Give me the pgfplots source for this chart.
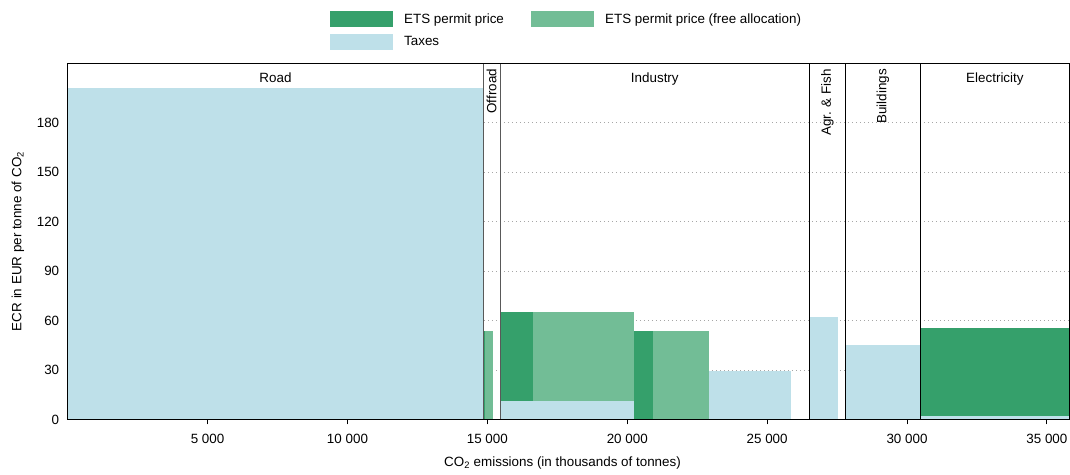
\documentclass[border=0pt]{standalone}
\usepackage{fontspec}
\setmainfont{Liberation Sans}
\usepackage{pgfplots}
\pgfplotsset{compat=1.18}
\definecolor{etsd}{RGB}{53,160,107}
\definecolor{etsl}{RGB}{114,189,150}
\definecolor{tax}{RGB}{190,224,233}
\newcommand\myfont{\fontsize{13.4bp}{16bp}\selectfont}
\begin{document}
\begin{tikzpicture}[font=\myfont]
\begin{axis}[
  scale only axis, width=1001.3bp, height=356bp,
  xmin=0, xmax=35800, ymin=0, ymax=216,
  scaled x ticks=false,
  xtick={5000,10000,...,35000},
  xticklabels={5 000,10 000,15 000,20 000,25 000,30 000,35 000},
  ytick={0,30,...,180},
  /pgf/number format/assume math mode=true,
  tick label style={font=\myfont},
  xticklabel style={yshift=-6bp},
  xtick pos=left,
  tick align=outside, major tick length=5bp,
  ytick style={draw=none},
  xtick style={black, line width=1bp},
  ymajorgrids,
  major grid style={black!35, line width=0.8bp, dash pattern=on 1bp off 3bp},
  axis line style={line width=1bp},
  xlabel={CO\textsubscript{2} emissions (in thousands of tonnes)},
  ylabel={ECR in EUR per tonne of CO\textsubscript{2}},
  xlabel style={at={(axis description cs:0.494,-0.1228)}, anchor=center, font=\myfont},
  ylabel style={at={(axis description cs:-0.0497,0.5)}, anchor=center, font=\myfont},
  legend columns=2,
  legend style={at={(axis description cs:0.498,1)}, anchor=south, yshift=13bp,
    draw=none, fill=none, font=\myfont, inner sep=0pt, row sep=7bp,
    /tikz/every even column/.append style={column sep=25bp}},
  legend image code/.code={\fill[#1, draw=none] (0bp,-8bp) rectangle (63bp,8bp); \path (72bp,0bp);},
  legend cell align=left,
  bar/.style={draw=none, forget plot},
]
\addlegendimage{fill=etsd}
\addlegendentry{ETS permit price}
\addlegendimage{fill=etsl}
\addlegendentry{ETS permit price (free allocation)}
\addlegendimage{fill=tax}
\addlegendentry{Taxes}

% Road
\addplot[fill=tax, bar] coordinates {(0,0) (14852,0) (14852,201.3) (0,201.3)} -- cycle;
% Offroad
\addplot[fill=etsd, bar] coordinates {(14852,0) (14900,0) (14900,53.4) (14852,53.4)} -- cycle;
\addplot[fill=etsl, bar] coordinates {(14900,0) (15195,0) (15195,53.4) (14900,53.4)} -- cycle;
% Industry
\addplot[fill=tax, bar] coordinates {(15456,0) (20257,0) (20257,11.1) (15456,11.1)} -- cycle;
\addplot[fill=etsd, bar] coordinates {(15456,11.1) (16646,11.1) (16646,64.9) (15456,64.9)} -- cycle;
\addplot[fill=etsl, bar] coordinates {(16646,11.1) (20257,11.1) (20257,64.9) (16646,64.9)} -- cycle;
\addplot[fill=etsd, bar] coordinates {(20257,0) (20926,0) (20926,53.4) (20257,53.4)} -- cycle;
\addplot[fill=etsl, bar] coordinates {(20926,0) (22928,0) (22928,53.4) (20926,53.4)} -- cycle;
\addplot[fill=tax, bar] coordinates {(22928,0) (25870,0) (25870,29.1) (22928,29.1)} -- cycle;
% Agr. & Fish
\addplot[fill=tax, bar] coordinates {(26514,0) (27541,0) (27541,61.9) (26514,61.9)} -- cycle;
% Buildings
\addplot[fill=tax, bar] coordinates {(27801,0) (30483,0) (30483,44.9) (27801,44.9)} -- cycle;
% Electricity
\addplot[fill=tax, bar] coordinates {(30483,0) (35800,0) (35800,1.8) (30483,1.8)} -- cycle;
\addplot[fill=etsd, bar] coordinates {(30483,1.8) (35800,1.8) (35800,55.2) (30483,55.2)} -- cycle;

% sector separators
\addplot[black!65, line width=1bp, forget plot] coordinates {(14852,0) (14852,216)};
\addplot[black!65, line width=1bp, forget plot] coordinates {(15456,0) (15456,216)};
\addplot[black, line width=1bp, forget plot] coordinates {(26514,0) (26514,216)};
\addplot[black, line width=1bp, forget plot] coordinates {(27801,0) (27801,216)};
\addplot[black, line width=1bp, forget plot] coordinates {(30483,0) (30483,216)};

\draw[line width=1bp] (rel axis cs:0,0) rectangle (rel axis cs:1,1);

\node[anchor=north, inner sep=2bp] at ([yshift=-7bp]axis cs:7426,216) {Road};
\node[anchor=north, inner sep=2bp] at ([yshift=-7bp]axis cs:20985,216) {Industry};
\node[anchor=north, inner sep=2bp] at ([yshift=-7bp]axis cs:33141,216) {Electricity};
\node[rotate=90, anchor=east, inner sep=2bp] at ([yshift=-3.5bp]axis cs:15154,216) {Offroad};
\node[rotate=90, anchor=east, inner sep=2bp] at ([yshift=-3.5bp]axis cs:27157,216) {Agr. \& Fish};
\node[rotate=90, anchor=east, inner sep=2bp] at ([yshift=-3.5bp]axis cs:29142,216) {Buildings};
\end{axis}
\pgfresetboundingbox
\path ([shift={(-67.7bp,-55bp)}]current axis.south west) rectangle ([shift={(0.7bp,63.3bp)}]current axis.north east);
\end{tikzpicture}
\end{document}
